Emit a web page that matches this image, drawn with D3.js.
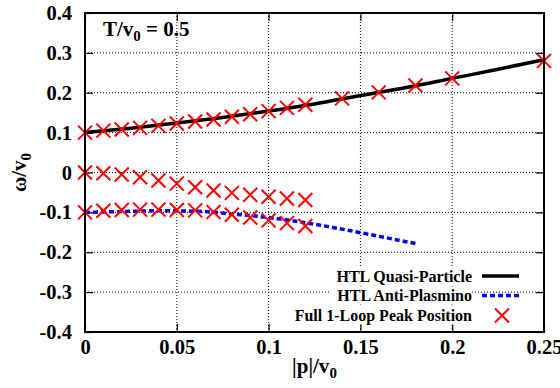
<!DOCTYPE html>
<html>
<head>
<meta charset="utf-8">
<script src="https://cdn.jsdelivr.net/npm/d3@7"></script>
<style>
  body { margin: 0; background: #fff; }
  svg text { font-family: "Liberation Serif", "Times New Roman", serif; font-weight: bold; fill: #000; }
</style>
</head>
<body>
<svg id="chart"></svg>
<script>
// tick values
const xTicks = [0, 0.05, 0.1, 0.15, 0.2, 0.25];
const yTicks = [-0.4, -0.3, -0.2, -0.1, 0, 0.1, 0.2, 0.3, 0.4];

// HTL quasi-particle branch (solid black)
const pQP = [0, 0.025, 0.05, 0.075, 0.1, 0.125, 0.15, 0.175, 0.2, 0.225, 0.25];
const wQP = [0.100, 0.111, 0.124, 0.138, 0.154, 0.172, 0.193, 0.213, 0.236, 0.259, 0.283];

// HTL anti-plasmino branch (blue dashed)
const pAP = [0, 0.02, 0.04, 0.06, 0.08, 0.1, 0.12, 0.14, 0.16, 0.18];
const wAP = [-0.100, -0.098, -0.096, -0.097, -0.104, -0.113, -0.126, -0.142, -0.160, -0.178];

// full 1-loop peak positions (red crosses)
const pPeakUp = [0, 0.01, 0.02, 0.03, 0.04, 0.05, 0.06, 0.07, 0.08, 0.09, 0.1, 0.11, 0.12, 0.14, 0.16, 0.18, 0.2, 0.25];
const wPeakUp = [0.100, 0.105, 0.108, 0.112, 0.117, 0.123, 0.128, 0.133, 0.140, 0.146, 0.154, 0.162, 0.170, 0.186, 0.201, 0.218, 0.236, 0.280];
const pPeakMid = [0, 0.01, 0.02, 0.03, 0.04, 0.05, 0.06, 0.07, 0.08, 0.09, 0.1, 0.11, 0.12];
const wPeakMid = [0, -0.002, -0.005, -0.012, -0.020, -0.028, -0.037, -0.045, -0.051, -0.056, -0.061, -0.065, -0.069];
const pPeakLow = [0, 0.01, 0.02, 0.03, 0.04, 0.05, 0.06, 0.07, 0.08, 0.09, 0.1, 0.11, 0.12];
const wPeakLow = [-0.100, -0.096, -0.094, -0.093, -0.093, -0.094, -0.095, -0.099, -0.106, -0.113, -0.120, -0.127, -0.134];

const legendNames = ["HTL Quasi-Particle", "HTL Anti-Plasmino", "Full 1-Loop Peak Position"];

const W = 560, H = 388;
const margin = {top: 13, right: 16, bottom: 56, left: 85};
const iw = W - margin.left - margin.right;
const ih = H - margin.top - margin.bottom;

const svg = d3.select('#chart').attr('width', W).attr('height', H);
const g = svg.append('g').attr('transform', `translate(${margin.left},${margin.top})`);

const x = d3.scaleLinear().domain([0, 0.25]).range([0, iw]);
const y = d3.scaleLinear().domain([-0.4, 0.4]).range([ih, 0]);

const fmt = d => String(+d.toFixed(2));

// grid
const grid = g.append('g').attr('stroke', '#000').attr('stroke-width', 1).attr('stroke-dasharray', '1,2');
grid.selectAll('.gx').data(xTicks.filter(d => d > 0 && d < 0.25)).enter().append('line')
  .attr('x1', d => x(d)).attr('x2', d => x(d)).attr('y1', 0).attr('y2', ih);
grid.selectAll('.gy').data(yTicks.filter(d => d > -0.4 && d < 0.4)).enter().append('line')
  .attr('y1', d => y(d)).attr('y2', d => y(d)).attr('x1', 0).attr('x2', iw);

// axes, ticks inward
const styleAxis = sel => {
  sel.select('.domain').remove();
  sel.selectAll('.tick line').attr('stroke', '#000').attr('stroke-width', 1.2);
  sel.selectAll('text').style('font-size', '20.5px');
};
g.append('g').attr('transform', `translate(0,${ih})`)
  .call(d3.axisBottom(x).tickValues(xTicks).tickFormat(fmt).tickSize(-8).tickPadding(7))
  .call(styleAxis);
g.append('g')
  .call(d3.axisLeft(y).tickValues(yTicks).tickFormat(fmt).tickSize(-8).tickPadding(13))
  .call(styleAxis);
g.append('g')
  .call(d3.axisTop(x).tickValues(xTicks).tickFormat('').tickSize(-8))
  .call(styleAxis);
g.append('g').attr('transform', `translate(${iw},0)`)
  .call(d3.axisRight(y).tickValues(yTicks).tickFormat('').tickSize(-8))
  .call(styleAxis);

// data lines
const line = d3.line().x(d => x(d[0])).y(d => y(d[1])).curve(d3.curveMonotoneX);
g.append('path').datum(d3.zip(pQP, wQP)).attr('d', line)
  .attr('fill', 'none').attr('stroke', '#000').attr('stroke-width', 3.5);
g.append('path').datum(d3.zip(pAP, wAP)).attr('d', line)
  .attr('fill', 'none').attr('stroke', '#0000ff').attr('stroke-width', 3.5).attr('stroke-dasharray', '5,3');

// crosses
const cross = 7;
const crossPath = (cx, cy) => `M${cx - cross},${cy - cross}L${cx + cross},${cy + cross}M${cx - cross},${cy + cross}L${cx + cross},${cy - cross}`;
const peaks = d3.zip(pPeakUp, wPeakUp).concat(d3.zip(pPeakMid, wPeakMid), d3.zip(pPeakLow, wPeakLow));
g.append('g').selectAll('path').data(peaks).enter().append('path')
  .attr('d', d => crossPath(x(d[0]), y(d[1])))
  .attr('stroke', '#ff0000').attr('stroke-width', 2).attr('fill', 'none');

// frame
g.append('rect').attr('width', iw).attr('height', ih)
  .attr('fill', 'none').attr('stroke', '#000').attr('stroke-width', 2);

// legend
const leg = svg.append('g');
const legY = [276, 295.5, 315.5];
legendNames.forEach((name, i) => {
  leg.append('rect').attr('x', 330).attr('y', legY[i] - 9).attr('width', 142).attr('height', 18).attr('fill', '#fff');
  leg.append('text').attr('x', 472).attr('y', legY[i] + 5.5).attr('text-anchor', 'end')
    .style('font-size', '16px').text(name);
});
leg.append('line').attr('x1', 482).attr('x2', 519).attr('y1', legY[0]).attr('y2', legY[0])
  .attr('stroke', '#000').attr('stroke-width', 3.5);
leg.append('line').attr('x1', 482).attr('x2', 519).attr('y1', legY[1]).attr('y2', legY[1])
  .attr('stroke', '#0000ff').attr('stroke-width', 3.5).attr('stroke-dasharray', '5,3');
leg.append('path').attr('d', crossPath(502, legY[2]))
  .attr('stroke', '#ff0000').attr('stroke-width', 2).attr('fill', 'none');

// annotation
const ann = svg.append('text').attr('x', 103).attr('y', 36).style('font-size', '21px');
ann.append('tspan').text('T/v');
ann.append('tspan').attr('dy', 5).style('font-size', '15px').text('0');
ann.append('tspan').attr('dy', -5).text(' = 0.5');

// axis titles
const xl = svg.append('text').attr('x', margin.left + iw / 2).attr('y', 373)
  .attr('text-anchor', 'middle').style('font-size', '21px');
xl.append('tspan').text('|p|/v');
xl.append('tspan').attr('dy', 5).style('font-size', '15px').text('0');

const yl = svg.append('text').attr('transform', `translate(26,${margin.top + ih / 2}) rotate(-90)`)
  .attr('text-anchor', 'middle').style('font-size', '21px');
yl.append('tspan').text('ω/v');
yl.append('tspan').attr('dy', 5).style('font-size', '15px').text('0');
</script>
</body>
</html>
